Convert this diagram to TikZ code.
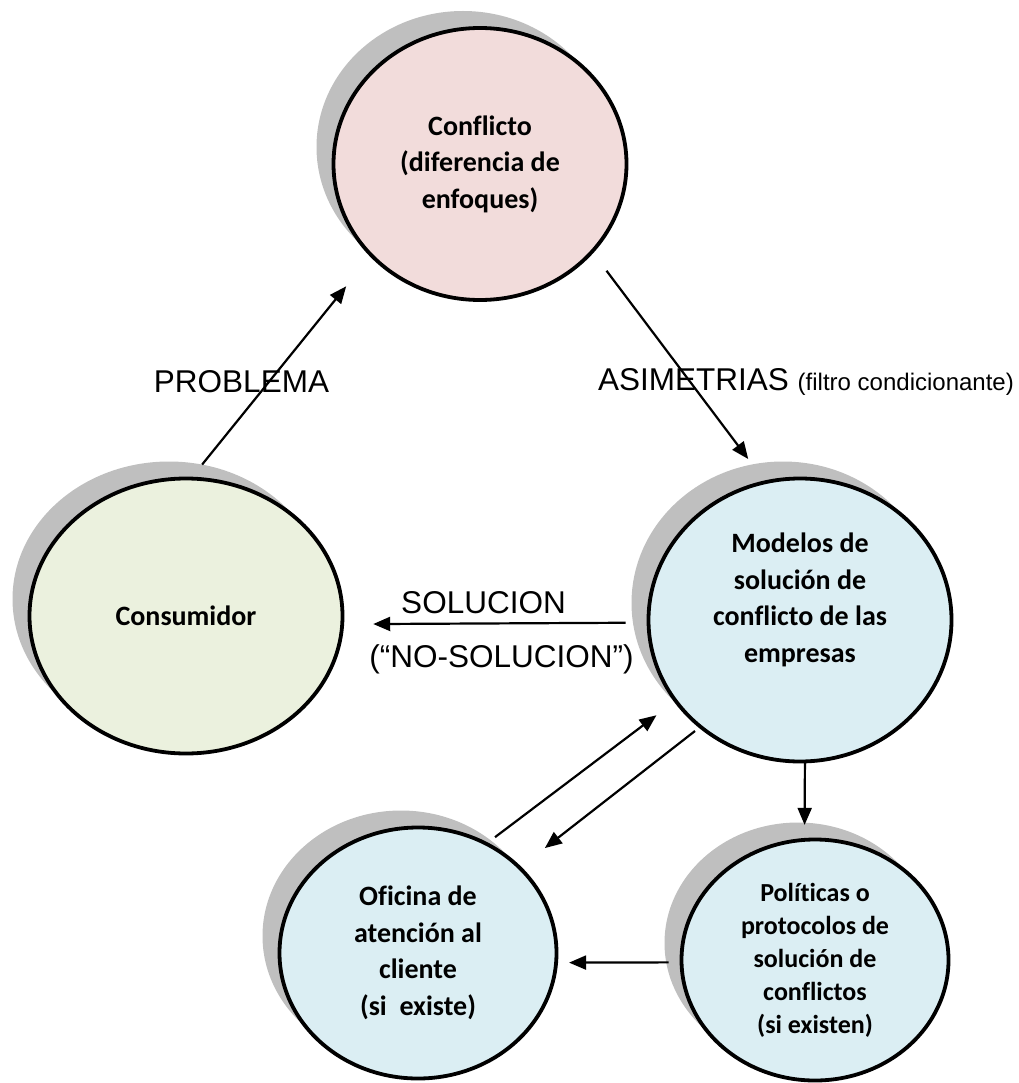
\documentclass[tikz,border=0pt]{standalone}
\usepackage{fontspec}
\setmainfont[Ligatures=NoCommon]{Carlito}
\newfontfamily\arialfont{Liberation Sans}
\usetikzlibrary{shapes.geometric, shadows, arrows.meta}
\definecolor{pinkfill}{HTML}{F2DCDB}
\definecolor{greenfill}{HTML}{EBF1DE}
\definecolor{bluefill}{HTML}{DBEEF3}
\definecolor{shadowgray}{HTML}{BFBFBF}

\begin{document}
\begin{tikzpicture}[x=1pt, y=-1pt,
  >={Triangle[length=17pt, width=14pt]},
  bubble/.style={ellipse, draw, line width=3.8pt, inner sep=0pt, outer sep=0pt, align=center,
    font=\bfseries\fontsize{28}{36.5}\selectfont,
    general shadow={fill=shadowgray, shadow xshift=-17pt, shadow yshift=17pt}},
  tag/.style={font=\arialfont\fontsize{31.5}{36}\selectfont, inner sep=0pt, anchor=base}]
\useasboundingbox (0, 0) rectangle (1018, 1083);
\node[bubble, fill=pinkfill, minimum width=293pt, minimum height=272pt] (N1) at (480, 164) {Conflicto\\(diferencia de\\enfoques)};
\node[bubble, fill=bluefill, minimum width=303pt, minimum height=283pt] (N2) at (800, 620) {\begin{tabular}{@{}c@{}}Modelos de\\solución de\\conflicto de las\\empresas\\[40pt]\end{tabular}};
\node[bubble, fill=bluefill, minimum width=267pt, minimum height=241pt, font=\bfseries\fontsize{26}{33}\selectfont] (N3) at (815, 960) {Políticas o\\protocolos de\\solución de\\conflictos\\(si existen)};
\node[bubble, fill=bluefill, minimum width=277pt, minimum height=251pt] (N4) at (418, 953) {Oficina de\\atención al\\cliente\\(si \ existe)};
\node[bubble, fill=greenfill, minimum width=313pt, minimum height=275pt] (N5) at (186, 616) {Consumidor};
% etiquetas
\node[tag] (T1) at (241.5, 392) {PROBLEMA};
\node[tag, anchor=base west] (T2) at (598, 390) {ASIMETRIAS {\fontsize{24}{28}\selectfont(filtro condicionante)}};
\node[tag] (T3) at (483.5, 613) {SOLUCION};
\node[tag] (T4) at (501.5, 667) {(“NO-SOLUCION”)};
% flechas
\draw[->, line width=2.2pt, shorten <=18pt, shorten >=40pt] (N5.88)  -- (N1.220);
\draw[->, line width=2.2pt, shorten <=24pt, shorten >=29pt] (N1.322) -- (N2.104);
\draw[->, line width=2.2pt, shorten <=23pt, shorten >=31pt] (N2.181) -- (N5.-3);
\draw[->, line width=2.2pt, shorten <=11pt, shorten >=24pt] (N4.58)  -- (N2.213);
\draw[->, line width=2.2pt, shorten <=7pt,  shorten >=32pt] (N2.227) -- (N4.40);
\draw[->, line width=2.2pt, shorten >=15pt]                 (N2.-88) -- (N3.95);
\draw[->, line width=2.2pt, shorten <=13pt, shorten >=13pt] (N3.181) -- (N4.-4);
\end{tikzpicture}
\end{document}
